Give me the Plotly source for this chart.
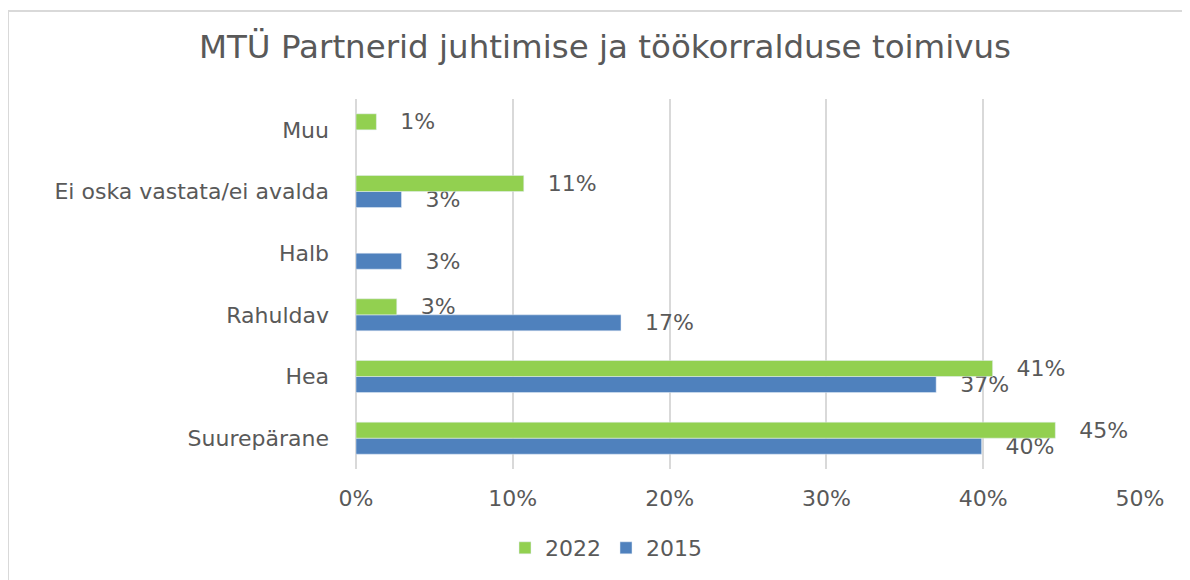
import plotly.graph_objects as go

categories = ["Suurepärane", "Hea", "Rahuldav", "Halb", "Ei oska vastata/ei avalda", "Muu"]
values_2022 = [44.6, 40.6, 2.6, None, 10.7, 1.3]
values_2015 = [39.9, 37.0, 16.9, 2.9, 2.9, None]
x_ticks = [0, 10, 20, 30, 40, 50]
x_tick_labels = ["0%", "10%", "20%", "30%", "40%", "50%"]

GREEN = "#92D050"
BLUE = "#4F81BD"
TEXT = "#595959"
FONT = "DejaVu Sans"

# page body adds an 8px offset, so positions are taken 8px up/left
OFF = 8
W, H = 1190, 580
L, T = 356 - OFF, 99 - OFF
R = W - (1140 - OFF)
B = H - (469 - OFF)
pw, ph = W - L - R, H - T - B

fig = go.Figure()
# 2015 first so that it sits below 2022 inside each group
for name, vals, color in [("2015", values_2015, BLUE), ("2022", values_2022, GREEN)]:
    fig.add_trace(go.Bar(
        y=categories, x=vals, name=name, orientation="h",
        marker=dict(color=color),
        texttemplate="\u00a0\u00a0\u00a0%{x:.0f}%", textposition="outside",
        textfont=dict(family=FONT, size=22, color=TEXT),
        constraintext="none", cliponaxis=False,
    ))

fig.update_layout(
    width=W, height=H,
    margin=dict(l=L, r=R, t=T, b=B),
    paper_bgcolor="white", plot_bgcolor="white",
    barmode="group", bargap=0.48, bargroupgap=0,
    font=dict(family=FONT, size=22, color=TEXT),
    title=dict(
        text="MTÜ Partnerid juhtimise ja töökorralduse toimivus",
        font=dict(family=FONT, size=32.5, color=TEXT),
        x=(605 - OFF) / W, xanchor="center", y=1 - (47 - OFF) / H, yanchor="middle",
    ),
    xaxis=dict(
        range=[0, 50], tickvals=x_ticks, ticktext=x_tick_labels,
        showgrid=True, gridcolor="#D9D9D9", gridwidth=2,
        zeroline=True, zerolinecolor="#D9D9D9", zerolinewidth=2,
        showline=False, ticks="", ticklabelstandoff=14,
        tickfont=dict(family=FONT, size=22, color=TEXT),
        fixedrange=True,
    ),
    yaxis=dict(
        showgrid=False, zeroline=False, showline=False, ticks="",
        ticklabelstandoff=26,
        tickfont=dict(family=FONT, size=22, color=TEXT),
    ),
    legend=dict(
        orientation="h", traceorder="reversed",
        x=(606 - OFF - L) / pw, xanchor="center",
        y=(H - B - (548 - OFF)) / ph, yanchor="middle",
        font=dict(family=FONT, size=22, color=TEXT),
        itemwidth=30,
    ),
    showlegend=True,
    shapes=[dict(
        type="rect", xref="paper", yref="paper",
        x0=(8 - OFF - L) / pw, x1=(W + 20 - L) / pw,
        y0=(H - B - (H + 20)) / ph, y1=(H - B - (11 - OFF)) / ph,
        line=dict(color="#D9D9D9", width=2), fillcolor="rgba(0,0,0,0)",
        layer="below",
    )],
)

fig.write_html("out.html")
